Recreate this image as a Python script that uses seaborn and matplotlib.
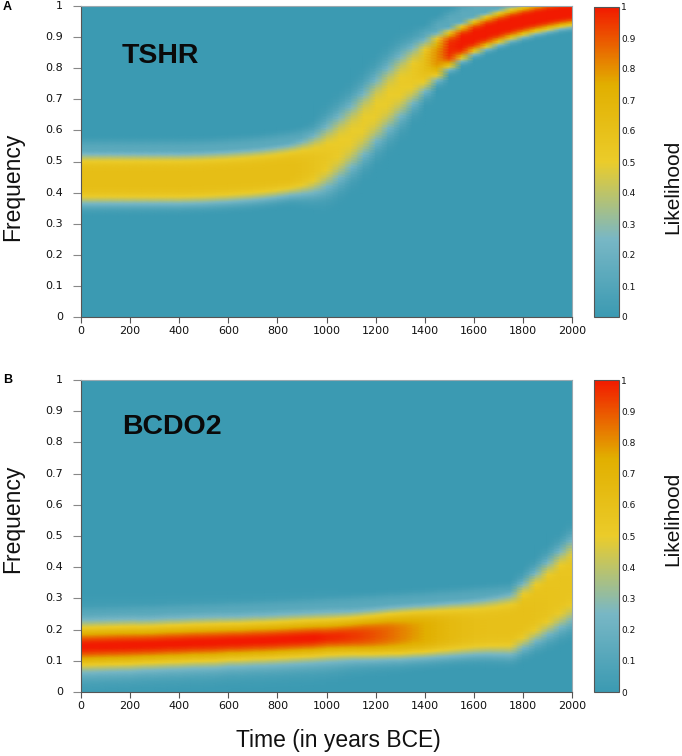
import numpy as np
import pandas as pd
import matplotlib
matplotlib.use("Agg")
import matplotlib.pyplot as plt
import seaborn as sns
from matplotlib.colors import LinearSegmentedColormap

# ---------------- data ----------------
years = [0, 50, 100, 150, 200, 250, 300, 350, 400, 450, 500, 550, 600, 650,
         700, 750, 800, 850, 900, 950, 1000, 1050, 1100, 1150, 1200, 1250,
         1300, 1350, 1400, 1450, 1500, 1550, 1600, 1650, 1700, 1750, 1800,
         1850, 1900, 1950, 2000]
freq_ticks = [0, 0.1, 0.2, 0.3, 0.4, 0.5, 0.6, 0.7, 0.8, 0.9, 1]
freq_tick_labels = ["0", "0.1", "0.2", "0.3", "0.4", "0.5", "0.6", "0.7", "0.8", "0.9", "1"]
year_ticks = [0, 200, 400, 600, 800, 1000, 1200, 1400, 1600, 1800, 2000]
genes = ["TSHR", "BCDO2"]
panel_letters = ["A", "B"]

# TSHR: centre, width, peak likelihood and profile shape of the band per time point
tshr_center = [0.445, 0.445, 0.445, 0.445, 0.445, 0.445, 0.445, 0.445, 0.445,
               0.446, 0.447, 0.449, 0.451, 0.454, 0.457, 0.461, 0.466, 0.472,
               0.480, 0.492, 0.515, 0.545, 0.580, 0.620, 0.663, 0.703, 0.742,
               0.777, 0.808, 0.837, 0.862, 0.884, 0.903, 0.918, 0.931, 0.943,
               0.953, 0.962, 0.970, 0.977, 0.983]
tshr_width = [0.069] * 18 + [0.072, 0.077, 0.082, 0.086, 0.086, 0.086, 0.086,
                             0.086, 0.084, 0.078, 0.070, 0.060, 0.052, 0.048,
                             0.046, 0.045, 0.044, 0.043, 0.042, 0.041, 0.041,
                             0.040, 0.040]
tshr_peak = [0.62] * 18 + [0.60, 0.57, 0.54, 0.51, 0.50, 0.50, 0.50, 0.50,
                           0.51, 0.53, 0.60, 0.80, 0.97, 1.0, 1.0, 1.0, 1.0,
                           1.0, 1.0, 1.0, 1.0, 1.0, 1.0]
tshr_shape = [4.0] * 18 + [3.6, 3.2, 2.8, 2.8, 2.8, 2.8, 2.8, 2.8, 2.8, 3.0,
                           3.3, 3.6] + [4.0] * 11
# faint pale layer just above the band: amplitude, offset, half-width
tshr_halo = [0.14, 0.075, 0.04]

# BCDO2
bcdo2_center = [0.147, 0.148, 0.149, 0.150, 0.151, 0.152, 0.153, 0.155, 0.156,
                0.158, 0.159, 0.160, 0.162, 0.163, 0.165, 0.166, 0.168, 0.170,
                0.172, 0.174, 0.176, 0.178, 0.180, 0.182, 0.184, 0.187, 0.189,
                0.192, 0.194, 0.197, 0.200, 0.203, 0.206, 0.209, 0.212, 0.216,
                0.244, 0.272, 0.300, 0.329, 0.358]
bcdo2_width = [0.051, 0.051, 0.051, 0.051, 0.051, 0.050, 0.050, 0.050, 0.050,
               0.050, 0.050, 0.050, 0.049, 0.049, 0.049, 0.049, 0.049, 0.049,
               0.049, 0.049, 0.049, 0.050, 0.052, 0.055, 0.058, 0.061, 0.064,
               0.066, 0.068, 0.070, 0.072, 0.073, 0.074, 0.076, 0.079, 0.083,
               0.089, 0.095, 0.101, 0.107, 0.113]
bcdo2_peak = [1.0] * 20 + [0.98, 0.97, 0.95, 0.93, 0.90, 0.87, 0.83, 0.79,
                           0.75, 0.70, 0.66, 0.63, 0.61, 0.60, 0.60, 0.60,
                           0.60, 0.59, 0.58, 0.57, 0.56]
bcdo2_shape = [2.0] * 21 + [2.1, 2.3, 2.5, 2.7, 2.9, 3.1, 3.3, 3.5, 3.7,
                            3.9] + [4.0] * 10
bcdo2_halo = [0.13, 0.08, 0.04]

zissou = ["#3B9AB2", "#78B7C5", "#EBCC2A", "#E1AF00", "#F21A00"]

# ---------------- build likelihood surfaces ----------------
freq_grid = np.round(np.linspace(0, 1, 201), 3)


def surface(center, width, peak, shape, halo):
    c = np.asarray(center)[None, :]
    w = np.asarray(width)[None, :]
    p = np.asarray(peak)[None, :]
    s = np.asarray(shape)[None, :]
    f = freq_grid[:, None]
    z = p * np.exp(-0.5 * (np.abs(f - c) / w) ** s)
    amp, off, hw = halo
    z = np.maximum(z, amp * np.exp(-0.5 * (np.abs(f - c - off) / hw) ** 4))
    return pd.DataFrame(np.clip(z, 0, 1), index=freq_grid, columns=years)


panels = [surface(tshr_center, tshr_width, tshr_peak, tshr_shape, tshr_halo),
          surface(bcdo2_center, bcdo2_width, bcdo2_peak, bcdo2_shape, bcdo2_halo)]

# ---------------- figure ----------------
plt.rcParams["font.family"] = ["DejaVu Sans"]
cmap = LinearSegmentedColormap.from_list("zissou", zissou, N=256)

W, H = 682, 756
fig = plt.figure(figsize=(W / 100, H / 100), dpi=100)
ax_boxes = [(81, 6, 572, 317), (81, 380, 572, 692)]
cb_boxes = [(594, 7, 619, 317), (594, 380, 619, 692)]
label_centers = [187, 519]
text_pos = [0.817, 0.827]

label_font = ["Liberation Sans", "DejaVu Sans"]

for k in range(2):
    x0, y0, x1, y1 = ax_boxes[k]
    ax = fig.add_axes([x0 / W, 1 - y1 / H, (x1 - x0) / W, (y1 - y0) / H])
    c0, cy0, c1, cy1 = cb_boxes[k]
    cax = fig.add_axes([c0 / W, 1 - cy1 / H, (c1 - c0) / W, (cy1 - cy0) / H])
    df = panels[k]
    sns.heatmap(df, ax=ax, cbar_ax=cax, cmap=cmap, vmin=0, vmax=1,
                shading="gouraud")
    ncol = df.shape[1]
    nrow = df.shape[0]
    ax.set_xlim(0, ncol - 1)
    ax.set_ylim(0, nrow - 1)
    step_years = years[1] - years[0]
    ax.set_xticks([t / step_years for t in year_ticks])
    ax.set_xticklabels([str(t) for t in year_ticks], rotation=0)
    ax.set_yticks([f * (nrow - 1) for f in freq_ticks])
    ax.set_yticklabels(freq_tick_labels, rotation=0)
    ax.set_xlabel("")
    ax.set_ylabel("")
    ax.tick_params(axis="y", length=6, width=0.8, color="#888888", pad=7,
                   labelsize=8, labelcolor="#111111")
    ax.tick_params(axis="x", length=4.5, width=0.8, color="#555555", pad=2,
                   labelsize=8, labelcolor="#111111")
    for side, sp in ax.spines.items():
        sp.set_visible(True)
        sp.set_linewidth(0.8)
        sp.set_color("#555555" if side in ("left", "bottom") else "#9aa9b0")

    ax.text(0.0835, text_pos[k], genes[k], transform=ax.transAxes,
            fontsize=20.5, fontweight="bold", family=label_font,
            va="baseline", ha="left", color="#0a0a0a")

    cb = ax.collections[0].colorbar
    cb.set_ticks(freq_ticks)
    cb.set_ticklabels(freq_tick_labels)
    cb.outline.set_visible(True)
    cb.outline.set_linewidth(0.8)
    cb.outline.set_edgecolor("#555555")
    cax.tick_params(length=0, pad=1.5, labelsize=6.5, labelcolor="#111111")

    yc = 1 - label_centers[k] / H
    fig.text(0.019, yc, "Frequency", rotation=90, ha="center", va="center",
             fontsize=16.5, family=label_font, color="#111111")
    fig.text(673 / W, yc, "Likelihood", rotation=90, ha="center", va="center",
             fontsize=15, family=label_font, color="#111111")
    fig.text(0.004, 1 - (y0 + 0.5) / H, panel_letters[k], ha="left", va="center",
             fontsize=9, fontweight="bold", family=label_font)

fig.text(338 / W, 1 - 741 / H, "Time (in years BCE)", ha="center", va="center",
         fontsize=16.5, family=label_font, color="#111111")

fig.savefig("out.png", dpi=100)
